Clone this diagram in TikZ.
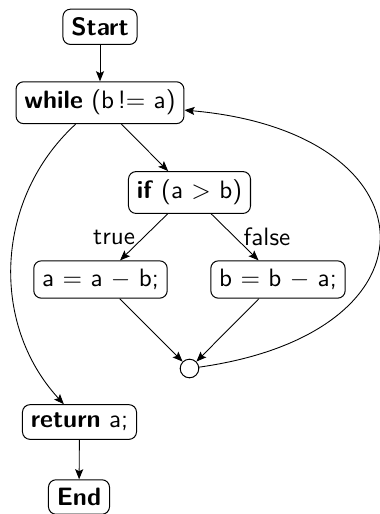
\documentclass[tikz,border=0pt]{standalone}
\usetikzlibrary{arrows.meta}
\begin{document}
\begin{tikzpicture}[x=0.398pt,y=-0.398pt,
  box/.style={draw,rounded corners=3pt,font=\sffamily,inner sep=3.33pt},
  joint/.style={draw,circle,minimum size=7.4pt,inner sep=0pt},
  conn/.style={-{Stealth[length=4pt,width=3.2pt,inset=0.8pt]},line width=0.35pt},
  lbl/.style={font=\sffamily}]
\useasboundingbox (0,0) rectangle (380,514);
\node[box] (start) at (100,26.8) {\textbf{Start}};
\node[box] (while) at (100,102.7) {\textbf{while} (b\kern1.5pt!$=$ a)};
\node[box] (if) at (189.5,192.5) {\textbf{if} (a $>$ b)};
\node[box] (a) at (100.5,279.5) {a $=$ a $-$ b;};
\node[box] (b) at (278,279.5) {b $=$ b $-$ a;};
\node[joint] (c) at (189.5,368.5) {};
\node[box] (ret) at (79.5,422) {\textbf{return} a;};
\node[box] (end) at (79,497) {\textbf{End}};
\draw[conn] (start) -- (while);
\draw[conn] (while) -- (if);
\draw[conn] (if) -- node[midway,left,lbl] {true} (a);
\draw[conn] (if) -- node[midway,right,lbl] {false} (b);
\draw[conn] (a) -- (c);
\draw[conn] (b) -- (c);
\draw[conn] (c) to[out=8,in=-5,looseness=2.5] (while);
\draw[conn] (while) to[bend right=45] (ret);
\draw[conn] (ret) -- (end);
\end{tikzpicture}
\end{document}
